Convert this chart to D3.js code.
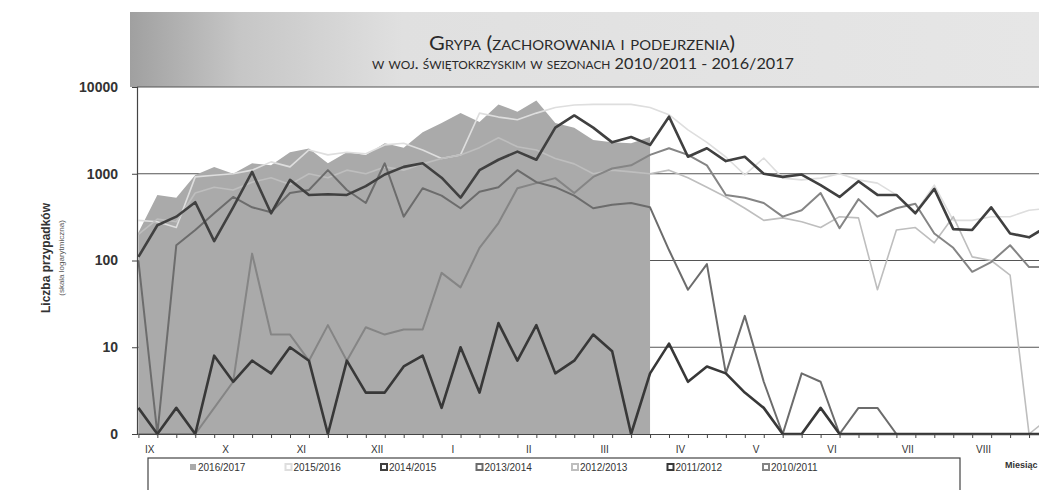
<!DOCTYPE html>
<html>
<head>
<meta charset="utf-8">
<script src="https://cdn.jsdelivr.net/npm/d3@7"></script>
<style>
  body { margin: 0; background: #fff; }
  text { font-family: "Liberation Sans", Arial, sans-serif; }
</style>
</head>
<body>
<div id="chart"></div>
<script>
// month labels on the x axis (4 reporting periods per month)
const months = ["IX", "X", "XI", "XII", "I", "II", "III", "IV", "V", "VI", "VII", "VIII"];
const yTicks = [1, 10, 100, 1000, 10000];
const yTickLabels = ["0", "10", "100", "1000", "10000"];

const seasons = ["2016/2017", "2015/2016", "2014/2015", "2013/2014", "2012/2013", "2011/2012", "2010/2011"];

// cases per reporting period (0 sits on the bottom line)
const s2016 = [210, 570, 530, 970, 1200, 1000, 1320, 1250, 1770, 1950, 1320, 1770, 1650, 2250, 2000, 3000,
               3850, 5000, 3950, 6300, 5200, 7000, 3850, 3400, 2450, 2300, 2250, 2650];
const s2015 = [290, 280, 240, 920, 960, 1000, 1100, 1370, 1200, 1880, 1650, 1770, 1700, 2150, 2250, 1880,
               1500, 1650, 5000, 4500, 4200, 5000, 5800, 6200, 6300, 6300, 6300, 5800, 4800, 3200, 2300, 1560,
               970, 1520, 890, 850, 890, 1000, 850, 780, 570, 360, 740, 290, 290, 320, 320, 380, 400];
const s2014 = [110, 255, 320, 470, 167, 410, 1050, 350, 850, 570, 580, 570, 720, 980, 1200, 1320,
               900, 530, 1100, 1450, 1800, 1450, 3400, 4700, 3400, 2300, 2650, 2150, 4550, 1570, 1970, 1400,
               1570, 1000, 920, 980, 740, 540, 820, 570, 570, 350, 670, 230, 225, 410, 205, 185, 250];
const s2013 = [100, 0, 150, 225, 350, 540, 410, 360, 600, 650, 1100, 650, 460, 1320, 320, 680,
               560, 400, 620, 700, 1100, 800, 700, 560, 400, 440, 460, 410, 132, 46, 91, 5,
               23, 4, 0, 5, 4, 0, 2, 2, 0, 0, 0, 0, 0, 0, 0, 0, 0];
const s2012 = [200, 300, 280, 600, 700, 650, 800, 900, 750, 1000, 900, 1100, 1000, 1200, 1100, 1300,
               1500, 1650, 2000, 2600, 2050, 1880, 1500, 1300, 1000, 1100, 1050, 1000, 1100, 900, 700, 540,
               400, 290, 310, 280, 240, 320, 310, 46, 225, 240, 160, 320, 110, 100, 68, 0, 1.5];
const s2011 = [2, 0, 2, 0, 8, 4, 7, 5, 10, 7, 0, 7, 3, 3, 6, 8,
               2, 10, 3, 19, 7, 18, 5, 7, 14, 9, 0, 5, 11, 4, 6, 5,
               3, 2, 0, 0, 2, 0, 0, 0, 0, 0, 0, 0, 0, 0, 0, 0, 0];
const s2010 = [0, 0, 0, 0, 2, 4, 120, 14, 14, 7, 18, 7, 17, 14, 16, 16,
               72, 49, 140, 270, 680, 780, 890, 600, 920, 1150, 1250, 1650, 1970, 1650, 1250, 570,
               530, 460, 320, 380, 600, 235, 510, 320, 400, 450, 205, 140, 74, 96, 150, 84, 84];

const lineSeries = [
  {name: "2015/2016", values: s2015, color: "#dedede", width: 1.6},
  {name: "2012/2013", values: s2012, color: "#bebebe", width: 1.6},
  {name: "2010/2011", values: s2010, color: "#858585", width: 2},
  {name: "2013/2014", values: s2013, color: "#6c6c6c", width: 2},
  {name: "2014/2015", values: s2014, color: "#404040", width: 2.6},
  {name: "2011/2012", values: s2011, color: "#383838", width: 2.6}
];

const W = 1039, H = 490;
const svg = d3.select("#chart").append("svg")
  .attr("width", W).attr("height", H);

// title banner with grey gradient
const defs = svg.append("defs");
const grad = defs.append("linearGradient").attr("id", "banner");
grad.append("stop").attr("offset", "0%").attr("stop-color", "#a0a0a0");
grad.append("stop").attr("offset", "12%").attr("stop-color", "#c6c6c6");
grad.append("stop").attr("offset", "30%").attr("stop-color", "#e0e0e0");
grad.append("stop").attr("offset", "100%").attr("stop-color", "#e6e6e6");

svg.append("rect")
  .attr("x", 130).attr("y", 12).attr("width", 909).attr("height", 75)
  .attr("fill", "url(#banner)");

svg.append("text")
  .attr("x", 582).attr("y", 50)
  .attr("text-anchor", "middle")
  .attr("textLength", 306).attr("lengthAdjust", "spacingAndGlyphs")
  .style("font-family", "Lato, sans-serif")
  .style("font-variant", "small-caps")
  .style("font-size", "19px")
  .attr("fill", "#2a2a2a")
  .text("Grypa (zachorowania i podejrzenia)");

svg.append("text")
  .attr("x", 583).attr("y", 69)
  .attr("text-anchor", "middle")
  .attr("textLength", 422).attr("lengthAdjust", "spacingAndGlyphs")
  .style("font-family", "Lato, sans-serif")
  .style("font-variant", "small-caps")
  .style("font-size", "15px")
  .attr("fill", "#2a2a2a")
  .text("w woj. świętokrzyskim w sezonach 2010/2011 - 2016/2017");

// scales: one step per reporting period, the last ones run past the right edge
const x = d3.scaleLinear().domain([0, 48]).range([138.4, 1048]);
const y = d3.scaleLog().domain([1, 10000]).range([434, 87]);
const yv = v => y(Math.max(v, 1));

defs.append("clipPath").attr("id", "clip")
  .append("rect").attr("x", 137).attr("y", 80).attr("width", W - 137).attr("height", 360);

const plot = svg.append("g");

// grid lines
plot.selectAll(".grid")
  .data(yTicks.slice(1))
  .enter().append("line")
    .attr("x1", 137).attr("x2", W)
    .attr("y1", d => y(d)).attr("y2", d => y(d))
    .attr("stroke", "#555").attr("stroke-width", 1.2);

// 2016/2017 as grey area
plot.append("path")
  .datum(s2016)
  .attr("d", d3.area()
    .x((d, i) => x(i))
    .y0(y(1))
    .y1(d => yv(d)))
  .attr("fill", "#aaaaaa");

// other seasons as lines
plot.append("g").attr("clip-path", "url(#clip)")
  .selectAll(".season")
  .data(lineSeries)
  .enter().append("path")
    .attr("fill", "none")
    .attr("stroke", d => d.color)
    .attr("stroke-width", d => d.width)
    .attr("stroke-linejoin", "round")
    .attr("d", d => d3.line().x((v, i) => x(i)).y(v => yv(v))(d.values));

// y axis
const yAxis = plot.append("g")
  .attr("transform", "translate(137,0)")
  .call(d3.axisLeft(y).tickValues(yTicks).tickFormat((d, i) => yTickLabels[i]).tickSize(5).tickPadding(14));
yAxis.select(".domain").attr("stroke", "#444").attr("stroke-width", 1.2);
yAxis.selectAll("line").attr("stroke", "#444");
yAxis.selectAll("text")
  .style("font-size", "14px").style("font-weight", "bold").attr("fill", "#333");

// x axis
const xAxis = plot.append("g")
  .attr("transform", "translate(0,434)")
  .call(d3.axisBottom(x).tickValues(d3.range(49)).tickFormat("").tickSize(4).tickSizeOuter(0));
xAxis.select(".domain").attr("stroke", "#444").attr("stroke-width", 1.2);
xAxis.selectAll("line").attr("stroke", "#444");

plot.selectAll(".month")
  .data(months)
  .enter().append("text")
    .attr("x", (d, i) => x(i * 4 + 0.6))
    .attr("y", 453)
    .attr("text-anchor", "middle")
    .style("font-size", "10px")
    .attr("fill", "#333")
    .text(d => d);

// axis titles
svg.append("text")
  .attr("transform", "translate(50,258) rotate(-90)")
  .attr("text-anchor", "middle")
  .style("font-size", "12px").style("font-weight", "bold")
  .attr("fill", "#333")
  .text("Liczba przypadków");
svg.append("text")
  .attr("transform", "translate(64,258) rotate(-90)")
  .attr("text-anchor", "middle")
  .style("font-size", "8px")
  .attr("fill", "#555")
  .text("(skala logarytmiczna)");

svg.append("text")
  .attr("x", 1005).attr("y", 468)
  .style("font-size", "9px").style("font-weight", "bold")
  .attr("fill", "#333")
  .text("Miesiąc");

// legend
svg.append("rect")
  .attr("x", 148).attr("y", 458).attr("width", 812).attr("height", 50)
  .attr("fill", "none").attr("stroke", "#444").attr("stroke-width", 1.2);

const legendColors = ["#aaaaaa", "#dedede", "#404040", "#6c6c6c", "#bebebe", "#383838", "#858585"];
const legendX = d3.scalePoint().domain(seasons).range([198, 771]);
const item = svg.selectAll(".legend")
  .data(seasons)
  .enter().append("g")
    .attr("transform", d => "translate(" + legendX(d) + ",471)");
item.append("rect")
  .attr("x", -8).attr("y", -7).attr("width", 6).attr("height", 6)
  .attr("fill", (d, i) => i == 0 ? legendColors[i] : "#fff")
  .attr("stroke", (d, i) => i == 0 ? "none" : legendColors[i])
  .attr("stroke-width", 2);
item.append("text")
  .attr("x", 0).attr("y", 0)
  .style("font-size", "10px")
  .attr("fill", "#333")
  .text(d => d);
</script>
</body>
</html>
